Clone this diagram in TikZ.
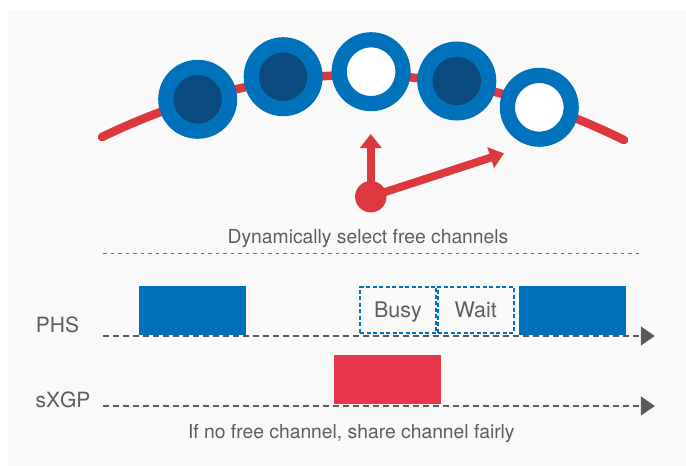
\documentclass[tikz,border=0pt]{standalone}
\usepackage{fontspec}
\setmainfont{TeX Gyre Heros}
\usetikzlibrary{arrows.meta}
\definecolor{chblue}{HTML}{0072BC}
\definecolor{chdark}{HTML}{0A4A7F}
\definecolor{chred}{HTML}{DC383E}
\definecolor{blkred}{HTML}{E8364A}
\definecolor{bggray}{HTML}{F9F9F9}
\definecolor{txtgray}{HTML}{5E5E5E}
\definecolor{axgray}{HTML}{5A5A5A}
\begin{document}
\begin{tikzpicture}[x=1pt,y=-1pt,
		slot/.style={circle,draw=chblue,line width=15.2pt,minimum size=63.8pt,inner sep=0pt},
		redarrow/.style={chred,line width=8pt,-{Triangle[length=14pt,width=21pt]}},
		timeaxis/.style={axgray,line width=1.5pt,dash pattern=on 6pt off 4pt,-{Triangle[length=14pt,width=19pt]}},
		frame/.style={fill=chblue,minimum width=107pt,minimum height=49pt,inner sep=0pt,anchor=north west},
		waitbox/.style={draw=chblue,line width=2pt,dash pattern=on 4pt off 2.5pt,minimum width=76pt,minimum height=46.6pt,inner sep=0pt,text height=15.5pt,text depth=0pt,text=txtgray,font=\fontsize{21.5}{24}\selectfont},
		caption/.style={text=txtgray,anchor=base,inner sep=0pt,font=\fontsize{19.3}{23}\selectfont},
		rowlabel/.style={text=txtgray,anchor=west,inner sep=0pt,font=\fontsize{21}{24}\selectfont}]
		\useasboundingbox (0,0) rectangle (686,466);
		\fill[bggray] (8,10) rectangle (686,466);
		% channels on the ring
		\draw[chred,line width=8.5pt,line cap=round] (102,137) .. controls (276,53.3) and (450,54.3) .. (624,140);
		\node[slot,fill=chdark] (c1) at (197.7,99.3) {};
		\node[slot,fill=chdark] (c2) at (283.2,76.7) {};
		\node[slot,fill=white] (c3) at (371.1,71.7) {};
		\node[slot,fill=chdark] (c4) at (456.8,81) {};
		\node[slot,fill=white] (c5) at (539.3,107.3) {};
		\node[circle,fill=chred,minimum size=31.4pt,inner sep=0pt] (pivot) at (370.8,196.7) {};
		\coordinate (up) at (370.8,134);
		\coordinate (next) at (504,153.3);
		\draw[redarrow] (pivot.center) -- (up);
		\draw[redarrow] (pivot.center) -- (next);
		\node[caption] (top) at (368,243) {Dynamically select free channels};
		\coordinate (sep0) at (103,253.3);
		\coordinate (sep1) at (640,253.3);
		\draw[axgray!90,line width=1.2pt,dash pattern=on 3.5pt off 4pt] (sep0) -- (sep1);
		% PHS row
		\node[frame] (phs1) at (139,286) {};
		\node[waitbox] (busy) at (398,310) {Busy};
		\node[waitbox] (wait) at (475.7,310) {Wait};
		\node[frame] (phs2) at (518.5,286) {};
		\node[rowlabel] (phs) at (35.7,324.5) {PHS};
		\coordinate (phs0) at (103,336);
		\coordinate (phsend) at (654.8,336);
		\draw[timeaxis] (phs0) -- (phsend);
		% sXGP row
		\node[frame,fill=blkred,minimum height=48.3pt] (sxgp1) at (334,355) {};
		\node[rowlabel] (sxgp) at (35.4,399.7) {sXGP};
		\coordinate (sxgp0) at (103,406);
		\coordinate (sxgpend) at (654.8,406);
		\draw[timeaxis] (sxgp0) -- (sxgpend);
		\node[caption] (bottom) at (351.3,438.5) {If no free channel, share channel fairly};
\end{tikzpicture}
\end{document}
